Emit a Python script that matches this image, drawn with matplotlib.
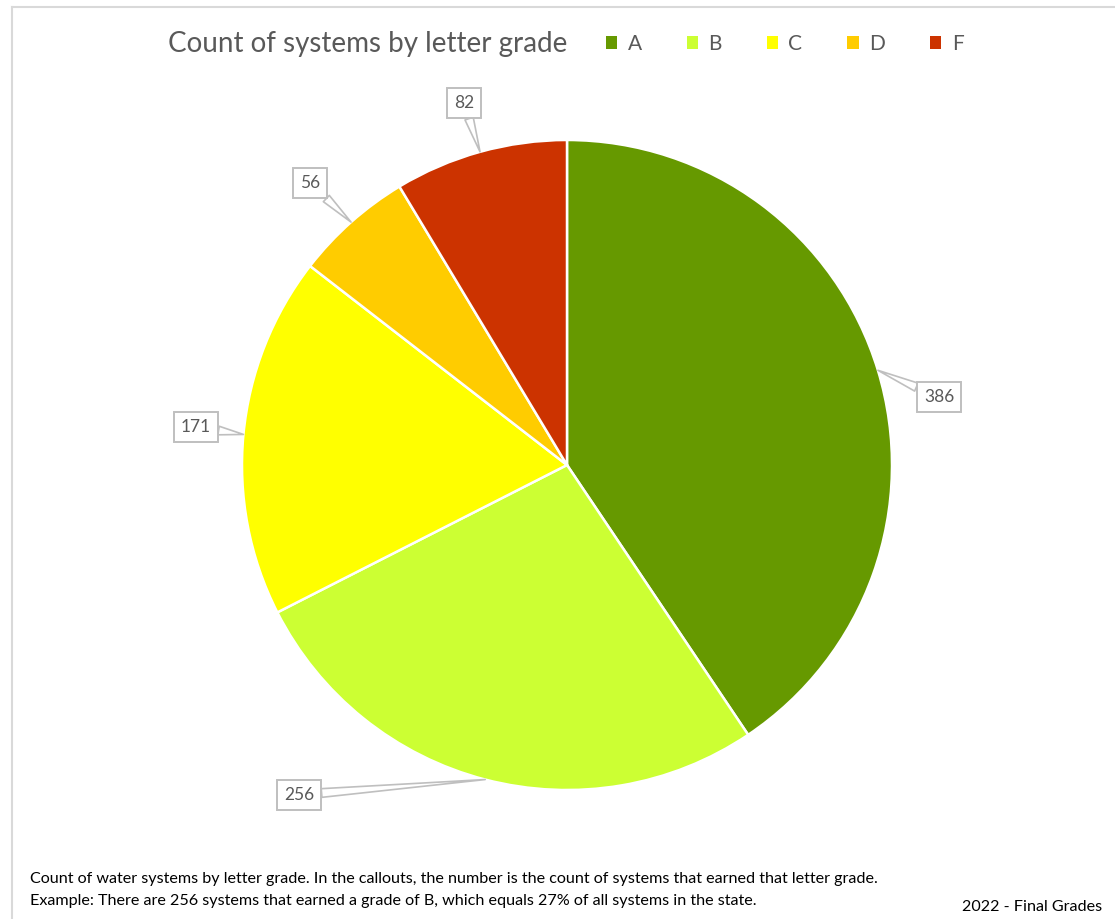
import matplotlib
matplotlib.use('Agg')
import numpy as np
import matplotlib.pyplot as plt
from matplotlib.lines import Line2D
from matplotlib.patches import Patch

grades = ['A', 'B', 'C', 'D', 'F']
counts = [386, 256, 171, 56, 82]
colors = ['#669900', '#CCFF33', '#FFFF00', '#FFCC00', '#CC3300']
# callout box positions (in pie-radius units), one per grade
label_pos = [(1.145, 0.209), (-0.825, -1.015), (-1.142, 0.117), (-0.791, 0.868), (-0.317, 1.114)]

plt.rcParams['font.family'] = ['Lato', 'DejaVu Sans']
GRAY = '#595959'

W, H = 1115, 919
fig = plt.figure(figsize=(W / 100, H / 100), dpi=100)

# pie axes: centre (567, 465) px, radius 325 px
cx, cy, r = 567, 465, 325
ax = fig.add_axes([(cx - r) / W, (H - cy - r) / H, 2 * r / W, 2 * r / H])
wedges, _ = ax.pie(counts, colors=colors, startangle=90, counterclock=False,
                   wedgeprops=dict(edgecolor='white', linewidth=1.8))
ax.set_xlim(-1, 1)
ax.set_ylim(-1, 1)
ax.set_aspect('equal')
ax.axis('off')

# callouts
for w, n, (lx, ly) in zip(wedges, counts, label_pos):
    mid = np.deg2rad((w.theta1 + w.theta2) / 2)
    tip = (np.cos(mid), np.sin(mid))
    ax.annotate(str(n), xy=tip, xytext=(lx, ly), ha='center', va='center',
                fontsize=12.5, color=GRAY, annotation_clip=False,
                bbox=dict(boxstyle='square,pad=0.4', fc='white', ec='#BFBFBF', lw=1.4),
                arrowprops=dict(arrowstyle='wedge,tail_width=0.5,shrink_factor=0.5',
                                fc='white', ec='#BFBFBF', lw=1.2, shrinkA=0, shrinkB=0))

# title + legend
fig.text(168 / W, 1 - 44 / H, 'Count of systems by letter grade', fontsize=20,
         color=GRAY, ha='left', va='center')
handles = [Patch(facecolor=c, edgecolor='none') for c in colors]
fig.legend(handles, grades, loc='center left', bbox_to_anchor=(587 / W, 1 - 44 / H),
           ncol=5, frameon=False, fontsize=15, labelcolor=GRAY, handlelength=0.55,
           handleheight=0.55, handletextpad=0.5, columnspacing=2.15)

# footnotes
fig.text(30 / W, 1 - 879 / H,
         'Count of water systems by letter grade. In the callouts, the number is the count of '
         'systems that earned that letter grade.', fontsize=11.6, color='black', va='center')
fig.text(30 / W, 1 - 901 / H,
         'Example: There are 256 systems that earned a grade of B, which equals 27% of all '
         'systems in the state.', fontsize=11.6, color='black', va='center')
fig.text(1102 / W, 1 - 907 / H, '2022 - Final Grades', fontsize=11.6, color='black',
         ha='right', va='center')

# chart frame (top + left edges visible)
fig.add_artist(Line2D([12 / W, 1], [1 - 7 / H, 1 - 7 / H], color='#D9D9D9', lw=1.5))
fig.add_artist(Line2D([12 / W, 12 / W], [0, 1 - 7 / H], color='#D9D9D9', lw=1.5))

fig.savefig('out.png', dpi=100, facecolor='white')
